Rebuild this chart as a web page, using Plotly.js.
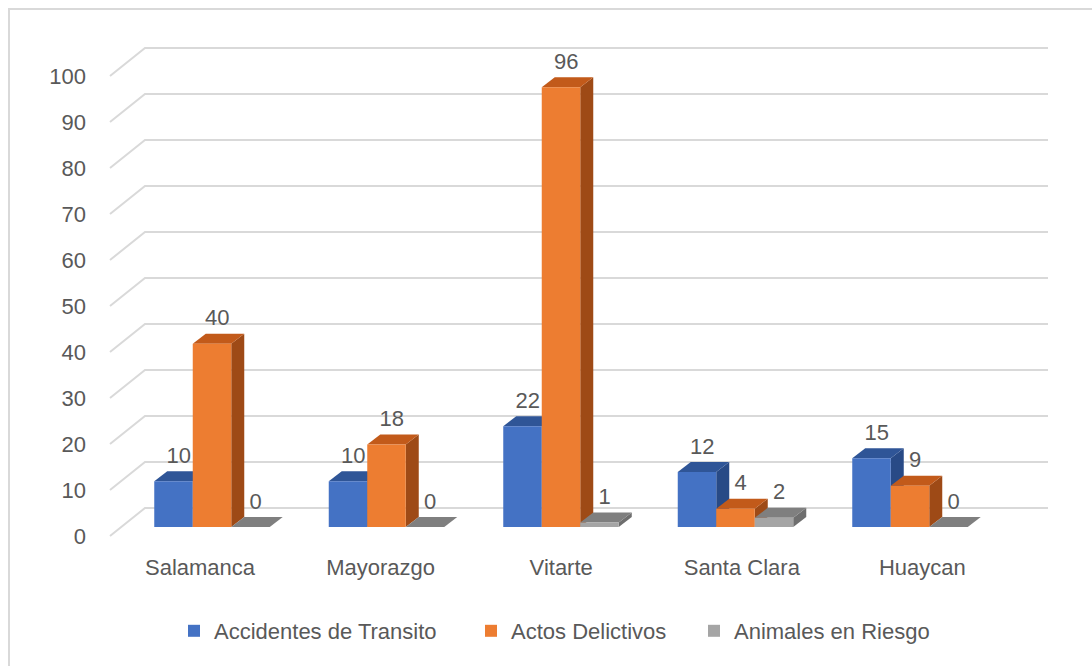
<!DOCTYPE html>
<html><head><meta charset="utf-8">
<script src="https://cdn.plot.ly/plotly-3.0.1.min.js"></script>
<style>html,body{margin:0;padding:0;background:#fff}#chart{width:1092px;height:666px}</style>
</head><body><div id="chart"></div>
<script>
// ---- data ----
const categories = ['Salamanca', 'Mayorazgo', 'Vitarte', 'Santa Clara', 'Huaycan'];
const accidentes = [10, 10, 22, 12, 15];
const actos = [40, 18, 96, 4, 9];
const animales = [0, 0, 1, 2, 0];
const seriesNames = ['Accidentes de Transito', 'Actos Delictivos', 'Animales en Riesgo'];
const yTicks = [0, 10, 20, 30, 40, 50, 60, 70, 80, 90, 100];

// ---- styles / geometry ----
const W = 1092, H = 666;
const FONT = 'Liberation Sans, Arial, sans-serif';
const TXT = '#595959';
const frontColors = ['#4472C4', '#ED7D31', '#A5A5A5'];
const topColors = ['#2F5597', '#C25A1A', '#7F7F7F'];
const sideColors = ['#284A86', '#9E4A16', '#6E6E6E'];
// plane mappings (pixel = origin + scale*value)
const A = {x0: 200, sx: 180.6, y0: 536, sy: 4.6};   // front plane (axis labels)
const B = {x0: 212, sx: 174.5, y0: 527, sy: 4.58};  // bar front plane
const barW = 38.5 / B.sx;
const ddx = 13 / B.sx, ddy = 10 / B.sy;              // bar depth
const labelLift = 3 / B.sy;
const wallFrontLeft = (110 - A.x0) / A.sx;
const wallBackLeft = (145 - A.x0) / A.sx;
const wallRight = (1048 - A.x0) / A.sx;
const wallDy = 28 / A.sy;
const legendLeft = [174 / W, 471 / W, 694 / W];

const rangeX = P => [(0 - P.x0) / P.sx, (W - P.x0) / P.sx];
const rangeY = P => [(P.y0 - H) / P.sy, P.y0 / P.sy];

const series = [accidentes, actos, animales];
const xs = categories.map((c, i) => i);
const traces = [];

// back wall gridlines + diagonals
const gx = [], gy = [];
yTicks.forEach(t => {
  gx.push(wallFrontLeft, wallBackLeft, wallRight, null);
  gy.push(t, t + wallDy, t + wallDy, null);
});
traces.push({type: 'scatter', mode: 'lines', x: gx, y: gy, xaxis: 'x', yaxis: 'y',
  line: {color: '#D9D9D9', width: 2}, hoverinfo: 'skip', showlegend: false});

// 3D top and side faces (drawn bar by bar, left to right)
xs.forEach(i => {
  series.forEach((vals, j) => {
    const v = vals[i];
    const x0 = i + (j - 1.5) * barW, x1 = x0 + barW;
    traces.push({type: 'scatter', mode: 'lines', fill: 'toself',
      x: [x1, x1 + ddx, x1 + ddx, x1, x1], y: [0, ddy, v + ddy, v, 0],
      xaxis: 'x2', yaxis: 'y2', fillcolor: sideColors[j], line: {width: 0, color: sideColors[j]},
      hoverinfo: 'skip', showlegend: false});
    traces.push({type: 'scatter', mode: 'lines', fill: 'toself',
      x: [x0, x1, x1 + ddx, x0 + ddx, x0], y: [v, v, v + ddy, v + ddy, v],
      xaxis: 'x2', yaxis: 'y2', fillcolor: topColors[j], line: {width: 0, color: topColors[j]},
      hoverinfo: 'skip', showlegend: false});
  });
});

// front faces
series.forEach((vals, j) => {
  traces.push({type: 'bar', name: seriesNames[j], x: xs, y: vals,
    width: barW, offset: (j - 1.5) * barW, xaxis: 'x3', yaxis: 'y3',
    legend: j === 0 ? 'legend' : 'legend' + (j + 1),
    marker: {color: frontColors[j], line: {width: 0}}, hoverinfo: 'y'});
});

// data labels
series.forEach((vals, j) => {
  traces.push({type: 'scatter', mode: 'text',
    x: xs.map(i => i + (j - 1) * barW + ddx * 0.4), y: vals.map(v => v + ddy + labelLift),
    text: vals.map(String), textposition: 'top center',
    textfont: {family: FONT, size: 22, color: TXT},
    xaxis: 'x3', yaxis: 'y3', hoverinfo: 'skip', showlegend: false, cliponaxis: false});
});

const legendBase = {orientation: 'h', xanchor: 'left', y: (H - 631) / H, yanchor: 'middle',
  font: {family: FONT, size: 22, color: TXT}, bgcolor: 'rgba(0,0,0,0)'};

const layout = {
  width: W, height: H,
  margin: {l: 0, r: 0, t: 0, b: 0},
  paper_bgcolor: '#FFFFFF', plot_bgcolor: 'rgba(0,0,0,0)',
  font: {family: FONT, size: 22, color: TXT},
  showlegend: true,
  legend: Object.assign({}, legendBase, {x: legendLeft[0]}),
  legend2: Object.assign({}, legendBase, {x: legendLeft[1]}),
  legend3: Object.assign({}, legendBase, {x: legendLeft[2]}),
  xaxis: {domain: [0, 1], range: rangeX(A), tickmode: 'array', tickvals: xs, ticktext: categories,
    anchor: 'free', position: (H - 552) / H, showgrid: false, zeroline: false, showline: false,
    ticks: '', tickfont: {family: FONT, size: 22, color: TXT}, fixedrange: true},
  yaxis: {domain: [0, 1], range: rangeY(A), tickmode: 'array', tickvals: yTicks,
    anchor: 'free', position: 86 / W, showgrid: false, zeroline: false, showline: false,
    ticks: '', tickfont: {family: FONT, size: 22, color: TXT}, fixedrange: true},
  xaxis2: {overlaying: 'x', anchor: 'y2', range: rangeX(B), visible: false, fixedrange: true},
  yaxis2: {overlaying: 'y', anchor: 'x2', range: rangeY(B), visible: false, fixedrange: true},
  xaxis3: {overlaying: 'x', anchor: 'y3', range: rangeX(B), visible: false, fixedrange: true},
  yaxis3: {overlaying: 'y', anchor: 'x3', range: rangeY(B), visible: false, fixedrange: true},
  shapes: [{type: 'rect', xref: 'paper', yref: 'paper', x0: 9 / W, x1: 1.2, y0: -0.2, y1: (H - 9) / H,
    line: {color: '#D9D9D9', width: 2}, fillcolor: 'rgba(0,0,0,0)', layer: 'below'}]
};

Plotly.newPlot('chart', traces, layout, {displayModeBar: false, staticPlot: true});
</script>
</body></html>
